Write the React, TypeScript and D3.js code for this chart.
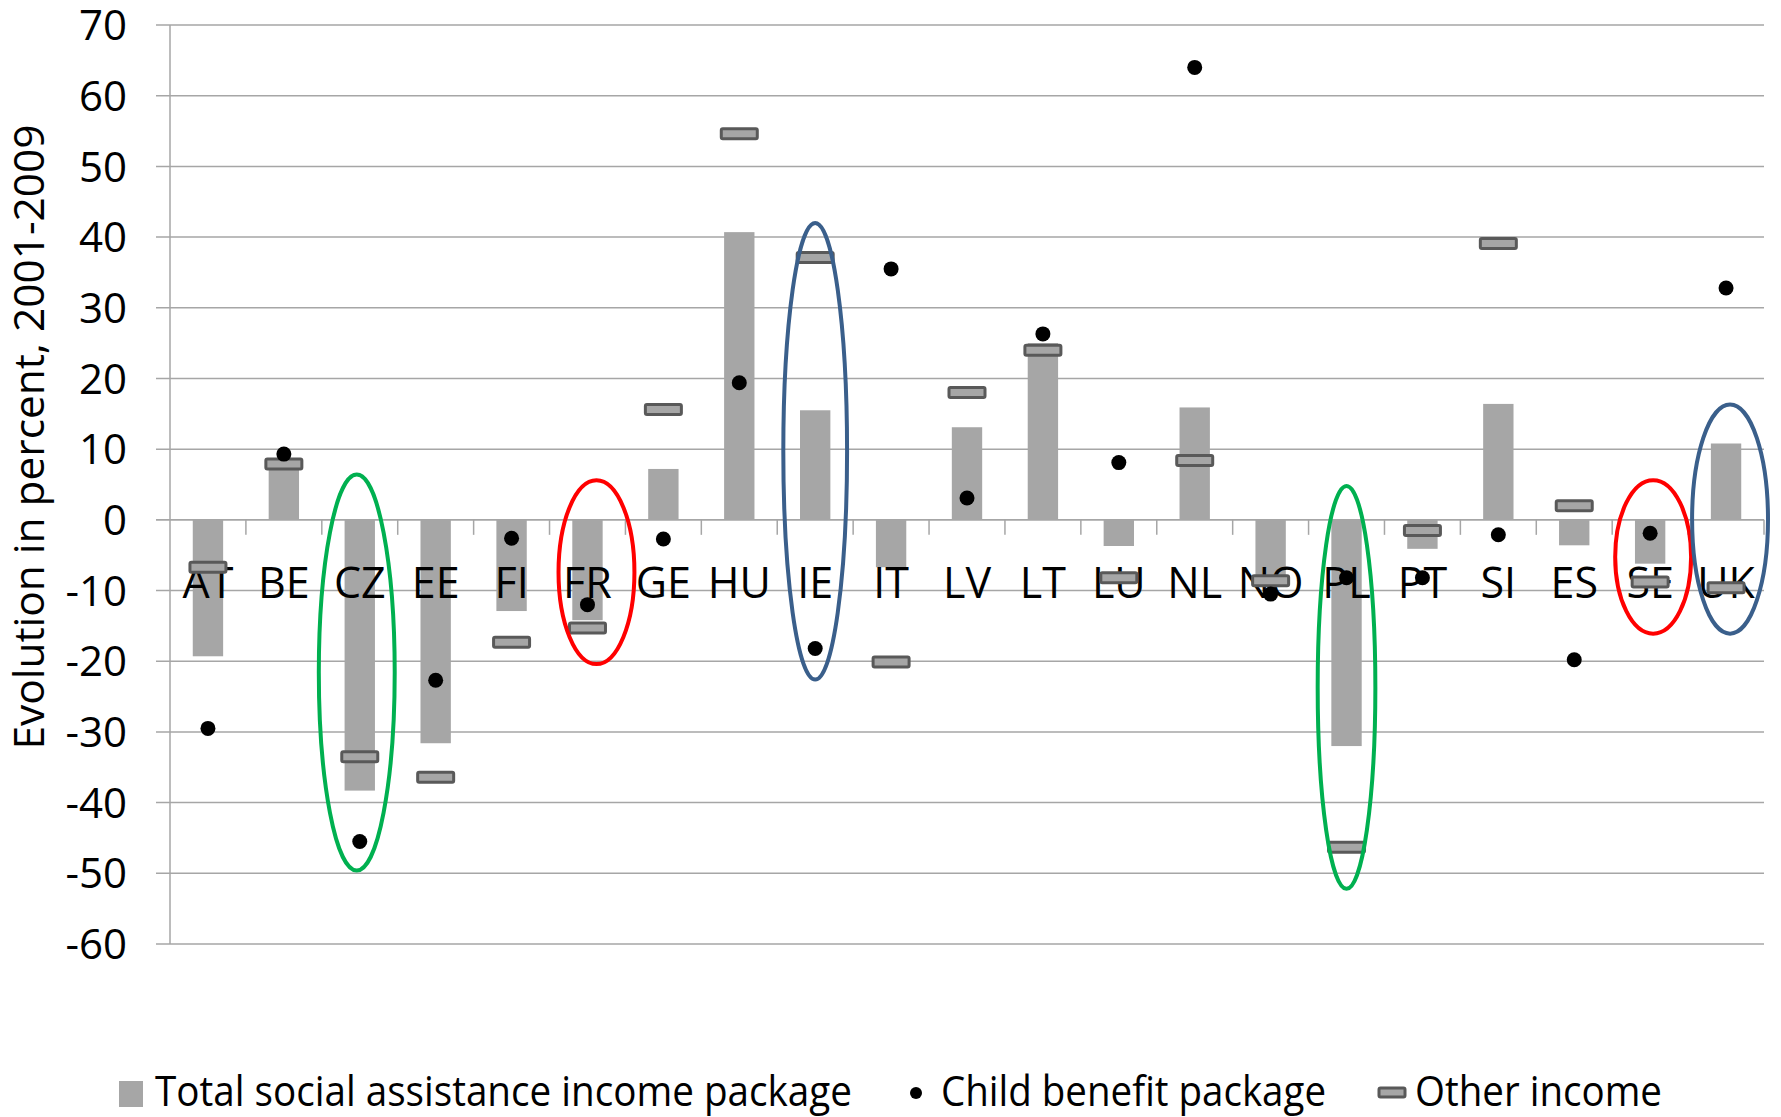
import React from "react";
import * as d3 from "d3";

const categories = ["AT","BE","CZ","EE","FI","FR","GE","HU","IE","IT","LV","LT","LU","NL","NO","PL","PT","SI","ES","SE","UK"];
const totalPackage = [-19.3, 7.6, -38.3, -31.6, -12.9, -14.2, 7.2, 40.7, 15.5, -6.7, 13.1, 25.0, -3.7, 15.9, -9.0, -32.0, -4.1, 16.4, -3.6, -6.2, 10.8];
const childBenefit = [-29.5, 9.3, -45.5, -22.7, -2.6, -12.0, -2.7, 19.4, -18.2, 35.5, 3.1, 26.3, 8.1, 64.0, -10.5, -8.2, -8.2, -2.1, -19.8, -1.9, 32.8];
const otherIncome = [-6.7, 7.9, -33.5, -36.4, -17.3, -15.3, 15.6, 54.6, 37.1, -20.1, 18.0, 24.0, -8.2, 8.4, -8.6, -46.3, -1.5, 39.1, 2.0, -8.8, -9.6];
const yTicks = [70, 60, 50, 40, 30, 20, 10, 0, -10, -20, -30, -40, -50, -60];
const legendLabels = ["Total social assistance income package", "Child benefit package", "Other income"];
const yTitle = "Evolution in percent, 2001-2009";

const annotCats = ["CZ", "PL", "FR", "SE", "IE", "UK"];
const annotTop = [6.4, 4.8, 5.6, 5.6, 42.0, 16.3];
const annotBottom = [-49.6, -52.2, -20.4, -16.1, -22.6, -16.1];
const annotColors = ["#00b050", "#00b050", "#ff0000", "#ff0000", "#3a5f8b", "#3a5f8b"];

const W = 1781, H = 1117;
const FONT = "'Liberation Sans Narrow', 'Open Sans', sans-serif";

export default function App() {
  const x = d3.scaleBand<string>().domain(categories).range([170, 1764]).paddingInner(0.6).paddingOuter(0.3);
  const slot = d3.scaleBand<string>().domain(categories).range([170, 1764]).padding(0);
  const y = d3.scaleLinear().domain([-60, 70]).range([944, 25]);
  const step = slot.step();
  const cx = (c: string) => (slot(c) as number) + step / 2;
  const bw = x.bandwidth();
  const dashW = 36, dashH = 10;

  return (
    <svg width={W} height={H} style={{ position: "absolute", left: 0, top: 0, background: "#fff" }} fontFamily={FONT}>
      {yTicks.map((t) => (
        <line key={"g" + t} x1={156} x2={1764} y1={y(t)} y2={y(t)} stroke="#a6a6a6" strokeWidth={1.5} />
      ))}
      <line x1={170} x2={170} y1={y(70)} y2={y(-60)} stroke="#a6a6a6" strokeWidth={1.5} />
      {categories.map((c, i) => {
        const v = totalPackage[i];
        return (
          <rect key={"b" + c} x={x(c)} width={bw} y={Math.min(y(v), y(0))} height={Math.abs(y(v) - y(0))} fill="#a6a6a6" />
        );
      })}
      <line x1={156} x2={1764} y1={y(0)} y2={y(0)} stroke="#a6a6a6" strokeWidth={1.5} />
      {categories.map((c) => (
        <line key={"t" + c} x1={(slot(c) as number) + step} x2={(slot(c) as number) + step} y1={y(0)} y2={y(0) + 15} stroke="#a6a6a6" strokeWidth={1.5} />
      ))}
      {yTicks.map((t) => (
        <text key={"yl" + t} x={127} y={y(t)} dy="0.36em" textAnchor="end" fontSize={42} fill="#000">{t}</text>
      ))}
      {categories.map((c) => (
        <text key={"cl" + c} x={cx(c)} y={598} textAnchor="middle" fontSize={43} fill="#000">{c}</text>
      ))}
      {categories.map((c, i) => (
        <rect key={"d" + c} x={cx(c) - dashW / 2} y={y(otherIncome[i]) - dashH / 2} width={dashW} height={dashH} rx={1.5}
          fill="#a6a6a6" stroke="#595959" strokeWidth={3} />
      ))}
      {categories.map((c, i) => (
        <circle key={"c" + c} cx={cx(c)} cy={y(childBenefit[i])} r={7.5} fill="#000" />
      ))}
      {annotCats.map((c, i) => {
        const top = y(annotTop[i]), bot = y(annotBottom[i]);
        const rx = c === "PL" ? step * 0.38 : c === "IE" ? step * 0.42 : step * 0.5;
        const off = c === "FR" ? 9 : c === "UK" ? 4 : c === "CZ" ? -3 : c === "SE" ? 3 : 0;
        return (
          <ellipse key={"e" + c} cx={cx(c) + off} cy={(top + bot) / 2} rx={rx} ry={(bot - top) / 2}
            fill="none" stroke={annotColors[i]} strokeWidth={4} />
        );
      })}
      <text transform={`translate(44, 437) rotate(-90)`} textAnchor="middle" fontSize={42} fill="#000"
        textLength={625} lengthAdjust="spacingAndGlyphs">{yTitle}</text>
      <rect x={119} y={1081} width={24} height={26} fill="#a6a6a6" />
      <text x={155} y={1106} fontSize={42} fill="#000" textLength={697} lengthAdjust="spacingAndGlyphs">{legendLabels[0]}</text>
      <circle cx={916} cy={1093} r={6} fill="#000" />
      <text x={941} y={1106} fontSize={42} fill="#000" textLength={385} lengthAdjust="spacingAndGlyphs">{legendLabels[1]}</text>
      <rect x={1379} y={1088} width={26} height={9} rx={1.5} fill="#a6a6a6" stroke="#595959" strokeWidth={3} />
      <text x={1415} y={1106} fontSize={42} fill="#000" textLength={247} lengthAdjust="spacingAndGlyphs">{legendLabels[2]}</text>
    </svg>
  );
}
